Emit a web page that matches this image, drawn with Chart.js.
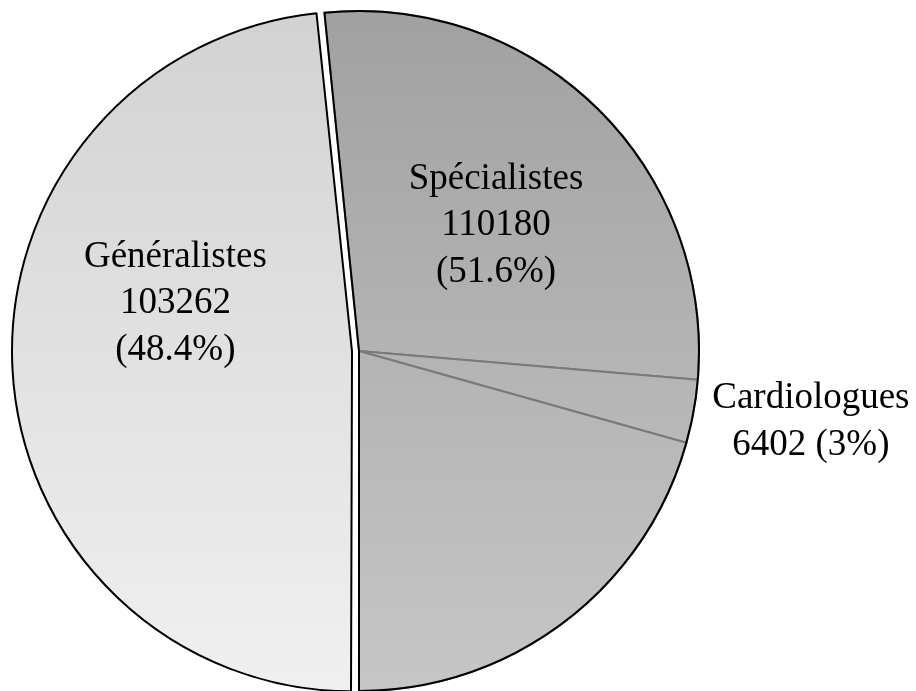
<!DOCTYPE html>
<html>
<head>
<meta charset="utf-8">
<script src="https://cdn.jsdelivr.net/npm/chart.js@4.4.0/dist/chart.umd.min.js"></script>
<style>
  html, body { margin: 0; padding: 0; background: #ffffff; }
  #wrap { width: 916px; height: 691px; position: relative; }
</style>
</head>
<body>
<div id="wrap"><canvas id="pieChart"></canvas></div>
<script>
// Data
const categories = ['Généralistes', 'Spécialistes', 'Cardiologues'];
const counts = [103262, 110180, 6402];
const percentLabels = ['48.4%', '51.6%', '3%'];
// Cardiologues are a part of Spécialistes; count of Spécialistes drawn before the Cardiologues wedge
const specBeforeCardio = 59700;

const total = counts[0] + counts[1];
const sliceValues = [
  specBeforeCardio,
  counts[2],
  counts[1] - counts[2] - specBeforeCardio,
  counts[0]
];

// label anchors, as fractions of the radius from the pie centre
const labelAnchors = [
  { dx: -0.54, dy: -0.147, lines: [categories[0], String(counts[0]), '(' + percentLabels[0] + ')'] },
  { dx: 0.403, dy: -0.376, lines: [categories[1], String(counts[1]), '(' + percentLabels[1] + ')'] },
  { dx: 1.329, dy: 0.201, lines: [categories[2], counts[2] + ' (' + percentLabels[2] + ')'] }
];

const RADIUS = 340;
const GEN_OFFSET = 28; // chart.js moves an arc by offset / 4

function makeGradient(chart, top, bottom) {
  const area = chart.chartArea;
  if (!area) return top;
  const g = chart.ctx.createLinearGradient(0, area.top, 0, area.bottom);
  g.addColorStop(0, top);
  g.addColorStop(1, bottom);
  return g;
}

const overlayPlugin = {
  id: 'overlay',
  // chart.js also grows an offset arc's radius; pull it back so both halves match
  afterUpdate(chart) {
    const gen = chart.getDatasetMeta(0).data[3];
    const fix = 1 - Math.sin(Math.min(Math.PI, gen.circumference));
    gen.outerRadius = gen.outerRadius - (GEN_OFFSET / 4) * fix;
  },
  // black outline round the whole Spécialistes wedge, and the text labels
  afterDatasetsDraw(chart) {
    const ctx = chart.ctx;
    const arcs = chart.getDatasetMeta(0).data;
    const first = arcs[0], last = arcs[2];
    ctx.save();
    ctx.beginPath();
    ctx.moveTo(first.x, first.y);
    ctx.arc(first.x, first.y, first.outerRadius, first.startAngle, last.endAngle);
    ctx.closePath();
    ctx.lineWidth = 2;
    ctx.lineJoin = 'miter';
    ctx.strokeStyle = '#000000';
    ctx.stroke();

    ctx.fillStyle = '#000000';
    ctx.font = '37px "Liberation Serif", "Times New Roman", serif';
    ctx.textAlign = 'center';
    ctx.textBaseline = 'alphabetic';
    const lh = 46.5;
    labelAnchors.forEach(a => {
      const cx = first.x + a.dx * first.outerRadius;
      const cy = first.y + a.dy * first.outerRadius;
      const n = a.lines.length;
      a.lines.forEach((t, i) => {
        const y = cy + (i - (n - 1) / 2) * lh + 12;
        ctx.fillText(t, cx, y);
      });
    });
    ctx.restore();
  }
};

const chart = new Chart(document.getElementById('pieChart').getContext('2d'), {
  type: 'pie',
  data: {
    labels: ['Spécialistes', 'Cardiologues', 'Spécialistes', 'Généralistes'],
    datasets: [{
      data: sliceValues,
      backgroundColor: function(context) {
        const c = context.chart;
        if (context.dataIndex === 3) return makeGradient(c, '#d2d2d2', '#f0f0f0');
        return makeGradient(c, '#a1a1a1', '#c6c6c6');
      },
      borderColor: ['#7a7a7a', '#7a7a7a', '#7a7a7a', '#000000'],
      borderWidth: [2, 2, 2, 2],
      offset: [0, 0, 0, GEN_OFFSET]
    }]
  },
  options: {
    responsive: true,
    maintainAspectRatio: false,
    animation: false,
    radius: RADIUS,
    rotation: 180 + 360 * counts[0] / total,
    layout: { padding: { left: 0, right: 198, top: 11, bottom: 0 } },
    plugins: {
      legend: { display: false },
      tooltip: { enabled: false }
    }
  },
  plugins: [overlayPlugin]
});
</script>
</body>
</html>
